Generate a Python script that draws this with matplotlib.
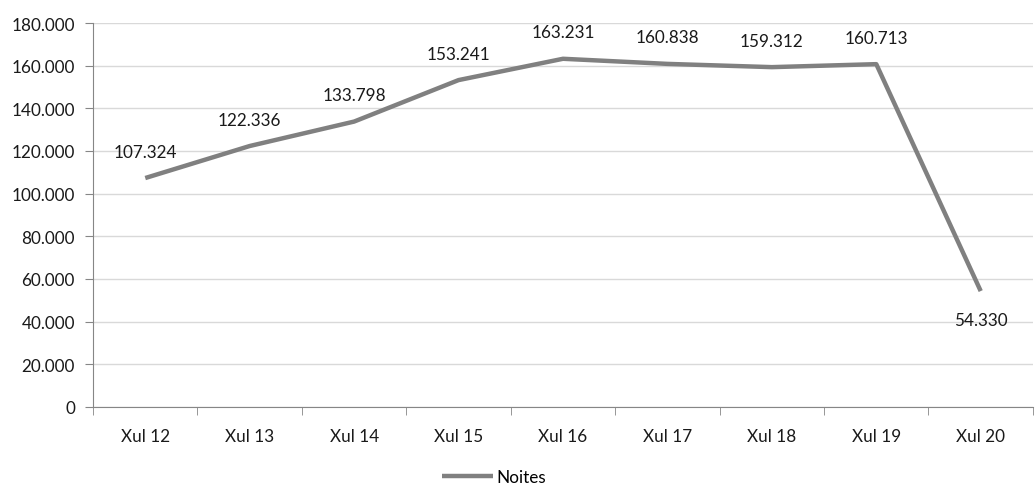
import matplotlib
matplotlib.use("Agg")
import matplotlib.pyplot as plt
import numpy as np

# Data
categories = ["Xul 12", "Xul 13", "Xul 14", "Xul 15", "Xul 16", "Xul 17", "Xul 18", "Xul 19", "Xul 20"]
noites = [107324, 122336, 133798, 153241, 163231, 160838, 159312, 160713, 54330]
series_name = "Noites"

def fmt(v):
    return f"{v:,.0f}".replace(",", ".")

plt.rcParams['font.family'] = ['Lato', 'DejaVu Sans']
fs = 12.3

fig = plt.figure(figsize=(10.35, 4.85), dpi=100)
ax = fig.add_axes([0.0899, 0.1588, 0.9081, 0.7917])

x = np.arange(len(categories))
line, = ax.plot(x, noites, color="#808080", linewidth=3.2, solid_capstyle="butt", label=series_name)

# data labels: above the points, below for the last one
for i, v in enumerate(noites):
    if i == len(noites) - 1:
        ax.annotate(fmt(v), (i, v), xytext=(0, -21), textcoords="offset points",
                    ha="center", va="center", fontsize=fs, color="#1a1a1a")
    else:
        ax.annotate(fmt(v), (i, v), xytext=(0, 19), textcoords="offset points",
                    ha="center", va="center", fontsize=fs, color="#1a1a1a")

ax.set_xlim(-0.5, len(categories) - 0.5)
ax.set_ylim(0, 180000)
yt = np.arange(0, 180001, 20000)
ax.set_yticks(yt)
ax.set_yticklabels([fmt(v) for v in yt])
ax.set_xticks(x)
ax.set_xticklabels(categories)
ax.set_xticks(np.arange(-0.5, len(categories) - 0.4, 1), minor=True)
ax.tick_params(axis="x", which="major", length=0, pad=15, labelsize=fs, colors="#1a1a1a")
ax.tick_params(axis="x", which="minor", length=6, color="#868686")
ax.tick_params(axis="y", length=6, color="#868686", labelsize=fs, labelcolor="#1a1a1a", pad=7)

ax.grid(axis="y", color="#d9d9d9", linewidth=1)
ax.set_axisbelow(True)
for s in ["top", "right"]:
    ax.spines[s].set_visible(False)
for s in ["left", "bottom"]:
    ax.spines[s].set_color("#868686")

fig.legend(handles=[line], loc="center", bbox_to_anchor=(0.477, 0.014), frameon=False,
           fontsize=fs, handlelength=3.0, handletextpad=0.2)

fig.savefig("out.png", dpi=100)
